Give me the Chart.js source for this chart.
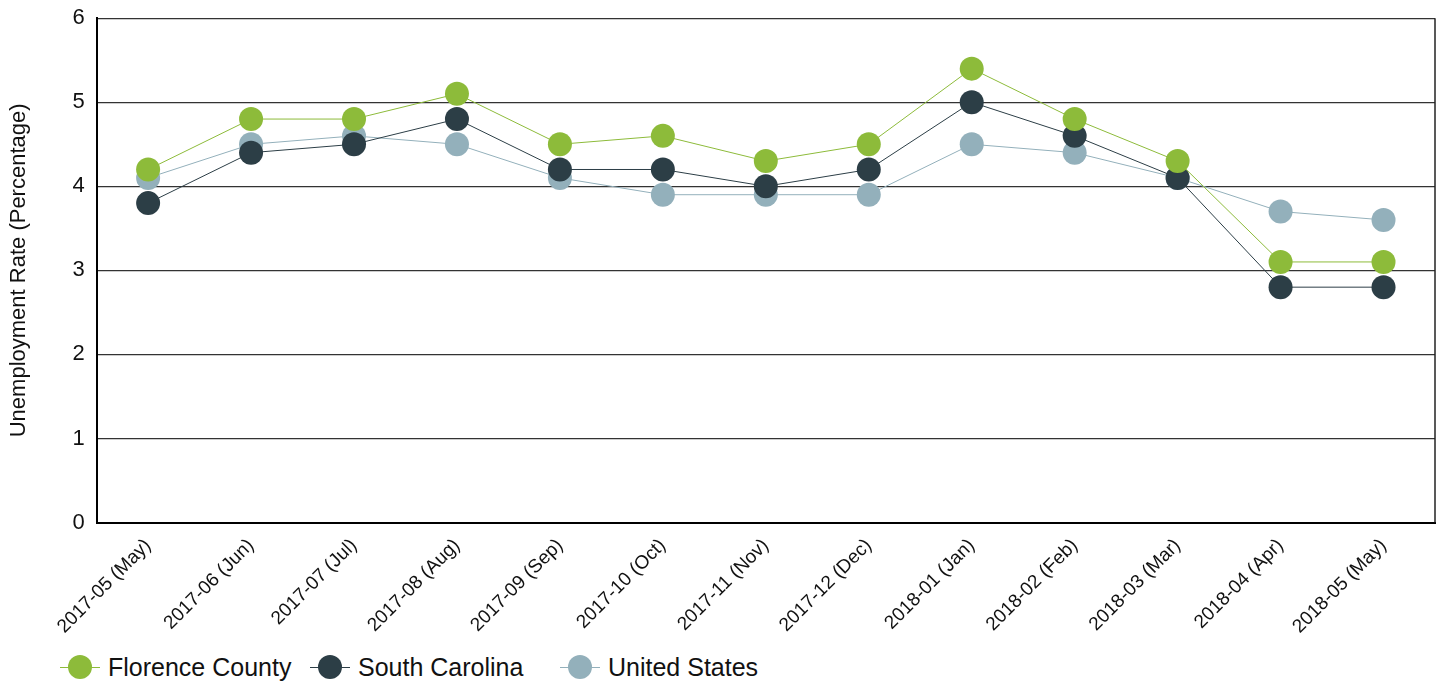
<!DOCTYPE html>
<html>
<head>
<meta charset="utf-8">
<script src="https://cdn.jsdelivr.net/npm/chart.js@4.4.1/dist/chart.umd.min.js"></script>
<style>
  html, body { margin: 0; padding: 0; background: #fff; overflow: hidden; }
  #wrap { position: relative; width: 1447px; height: 684px; overflow: hidden; font-family: "Liberation Sans", Arial, sans-serif; }
  #box { position: absolute; left: 0; top: -7px; width: 1447px; height: 649px; }
  #legend { position: absolute; left: 60px; top: 650px; height: 34px; display: flex; align-items: center; font-size: 25px; color: #111; }
  .item { display: flex; align-items: center; width: 250px; }
  .mark { position: relative; width: 40px; height: 24px; margin-right: 8px; }
  .mark .ln { position: absolute; left: 0; right: 0; top: 11.5px; height: 1px; }
  .mark .dot { position: absolute; left: 8px; top: 0; width: 24px; height: 24px; border-radius: 50%; }
</style>
</head>
<body>
<div id="wrap">
  <div id="box"><canvas id="mainChart"></canvas></div>
  <div id="legend"></div>
</div>
<script>
// --- veriler ---
const MONTHS = ['2017-05 (May)', '2017-06 (Jun)', '2017-07 (Jul)', '2017-08 (Aug)', '2017-09 (Sep)',
  '2017-10 (Oct)', '2017-11 (Nov)', '2017-12 (Dec)', '2018-01 (Jan)', '2018-02 (Feb)',
  '2018-03 (Mar)', '2018-04 (Apr)', '2018-05 (May)'];
const FLORENCE = [4.2, 4.8, 4.8, 5.1, 4.5, 4.6, 4.3, 4.5, 5.4, 4.8, 4.3, 3.1, 3.1];
const SOUTH_CAROLINA = [3.8, 4.4, 4.5, 4.8, 4.2, 4.2, 4.0, 4.2, 5.0, 4.6, 4.1, 2.8, 2.8];
const UNITED_STATES = [4.1, 4.5, 4.6, 4.5, 4.1, 3.9, 3.9, 3.9, 4.5, 4.4, 4.1, 3.7, 3.6];
const Y_TICKS = [0, 1, 2, 3, 4, 5, 6];

const SERIES = [
  { name: 'Florence County', data: FLORENCE, color: '#8dbb3a' },
  { name: 'South Carolina', data: SOUTH_CAROLINA, color: '#2c3e46' },
  { name: 'United States', data: UNITED_STATES, color: '#93b0bb' }
];

// sag kenar cizgisi
const frame = {
  id: 'frame',
  afterDatasetsDraw(chart) {
    const { ctx, chartArea: a } = chart;
    ctx.save();
    ctx.strokeStyle = '#222';
    ctx.lineWidth = 1.5;
    ctx.beginPath();
    ctx.moveTo(a.right, a.top);
    ctx.lineTo(a.right, a.bottom);
    ctx.stroke();
    ctx.restore();
  }
};

window.onload = () => {
  const ctx = document.getElementById('mainChart').getContext('2d');
  new Chart(ctx, {
    type: 'line',
    data: {
      labels: MONTHS,
      datasets: SERIES.map(s => ({
        label: s.name,
        data: s.data,
        borderColor: s.color,
        backgroundColor: s.color,
        pointBackgroundColor: s.color,
        pointBorderWidth: 0,
        borderWidth: 1,
        pointRadius: 12,
        pointHoverRadius: 12,
        tension: 0
      }))
    },
    options: {
      responsive: true,
      maintainAspectRatio: false,
      animation: false,
      layout: { padding: { top: 1, right: 5, left: 0, bottom: 0 } },
      plugins: { legend: { display: false }, tooltip: { enabled: false } },
      scales: {
        x: {
          offset: true,
          grid: { display: false },
          border: { color: '#000', width: 2 },
          ticks: {
            color: '#111',
            font: { family: 'Liberation Sans', size: 19 },
            minRotation: 45, maxRotation: 45, autoSkip: false, padding: 4
          }
        },
        y: {
          min: 0, max: 6,
          afterBuildTicks: axis => { axis.ticks = Y_TICKS.map(v => ({ value: v })); },
          grid: { color: '#333', lineWidth: 1.3, drawTicks: false },
          border: { color: '#000', width: 2 },
          ticks: { color: '#111', font: { family: 'Liberation Sans', size: 22 }, padding: 12 },
          title: {
            display: true, text: 'Unemployment Rate (Percentage)', color: '#111',
            font: { family: 'Liberation Sans', size: 22 }, padding: { top: 6, bottom: 28 }
          }
        }
      }
    },
    plugins: [frame]
  });

  document.getElementById('legend').innerHTML = SERIES.map(s => `
    <div class="item">
      <div class="mark"><div class="ln" style="background:${s.color}"></div><div class="dot" style="background:${s.color}"></div></div>
      <span>${s.name}</span>
    </div>`).join('');
};
</script>
</body>
</html>
